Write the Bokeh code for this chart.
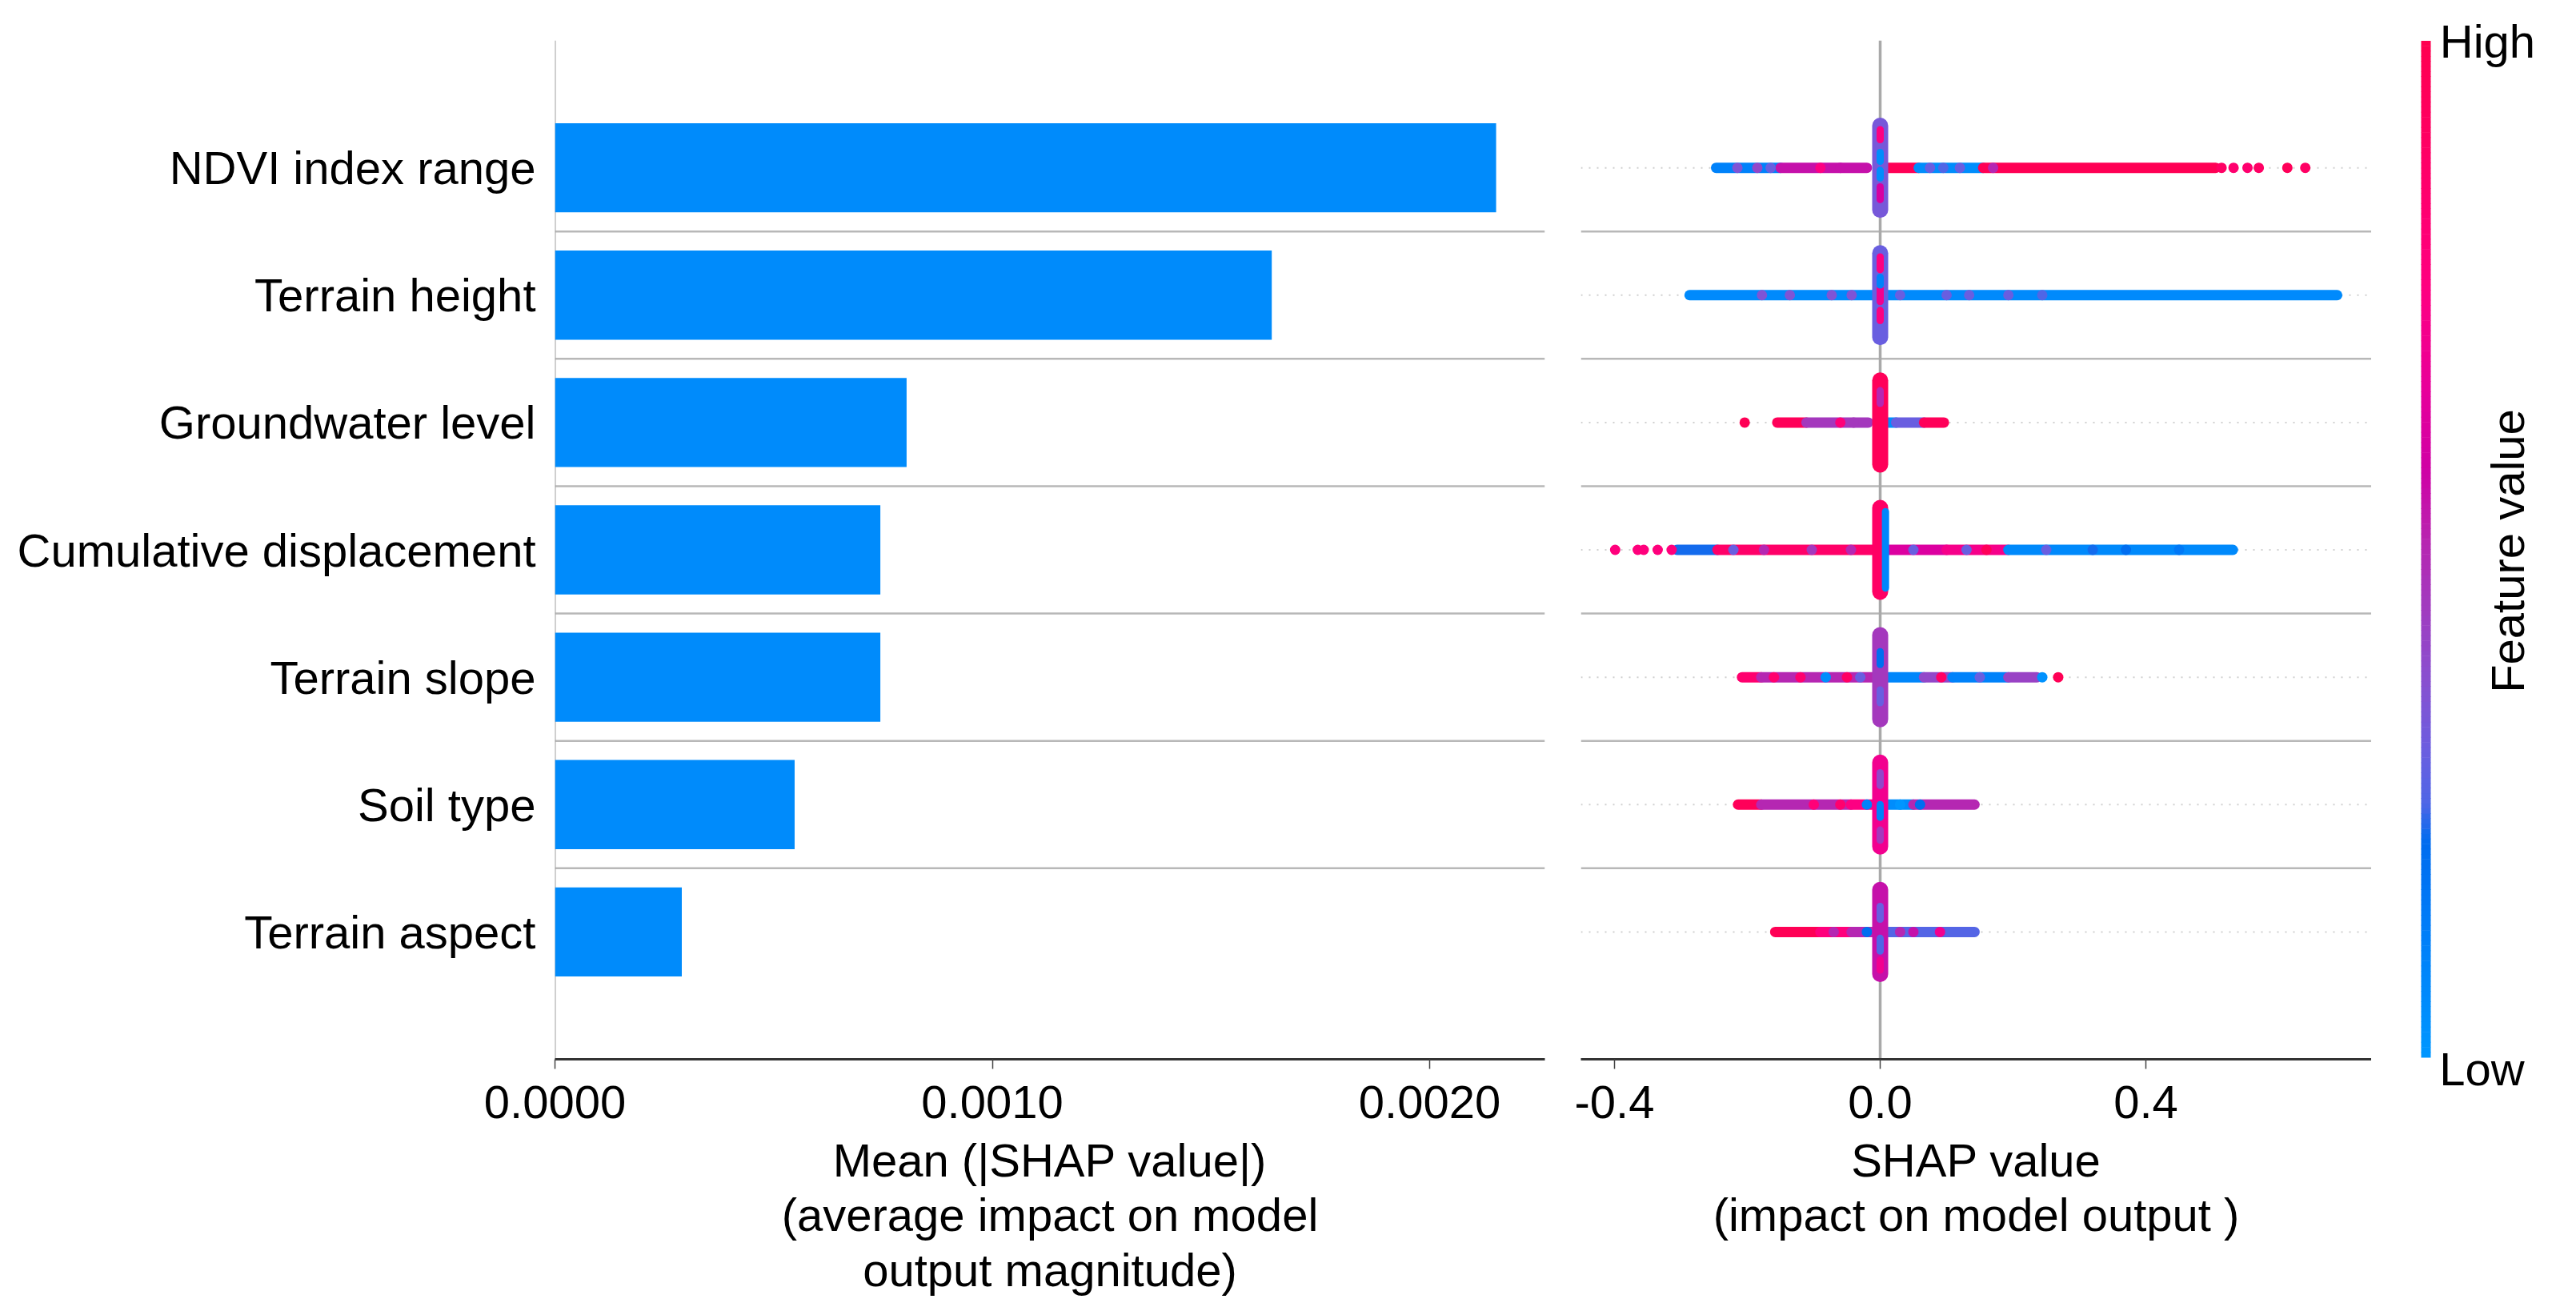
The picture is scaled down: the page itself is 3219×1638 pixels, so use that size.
import numpy as np
from bokeh.plotting import figure
from bokeh.layouts import row
from bokeh.models import Range1d, FixedTicker, NumeralTickFormatter, Span, ColumnDataSource, LinearAxis
from bokeh.transform import linear_cmap
from bokeh.embed import file_html
from bokeh.resources import INLINE
from bokeh.core.properties import value

# ---------------- data ----------------
features = ["NDVI index range", "Terrain height", "Groundwater level",
            "Cumulative displacement", "Terrain slope", "Soil type", "Terrain aspect"]
mean_abs_shap = [0.002152, 0.001639, 0.000804, 0.000744, 0.000744, 0.000548, 0.000290]

bar_ticks = [0.0, 0.001, 0.002]
shap_ticks = [-0.4, 0.0, 0.4]

# dense strips of SHAP values (feature index from top, start, end, feature level 0=low 1=high)
seg_feature = [0, 0, 0, 0, 0,
               1,
               2, 2, 2, 2, 2,
               3, 3, 3, 3, 3,
               4, 4, 4, 4, 4, 4,
               5, 5, 5, 5, 5,
               6, 6, 6, 6]
seg_x0 = [-0.247, -0.150, 0.010, 0.058, 0.155,
          -0.287,
          -0.155, -0.111, 0.005, 0.024, 0.066,
          -0.306, -0.245, 0.010, 0.100, 0.193,
          -0.208, -0.179, 0.008, 0.066, 0.109, 0.193,
          -0.214, -0.179, -0.044, 0.008, 0.050,
          -0.158, -0.090, -0.043, 0.010]
seg_x1 = [-0.150, -0.020, 0.058, 0.155, 0.505,
          0.688,
          -0.111, -0.018, 0.024, 0.066, 0.096,
          -0.245, -0.010, 0.100, 0.193, 0.531,
          -0.179, -0.010, 0.066, 0.109, 0.193, 0.236,
          -0.179, -0.044, 0.000, 0.050, 0.142,
          -0.090, -0.043, 0.000, 0.142]
seg_level = [0.10, 0.55, 0.97, 0.05, 0.98,
             0.06,
             0.95, 0.45, 0.04, 0.30, 0.95,
             0.22, 0.88, 0.62, 0.72, 0.07,
             0.85, 0.50, 0.08, 0.40, 0.10, 0.42,
             0.95, 0.50, 0.75, 0.05, 0.50,
             0.97, 0.78, 0.50, 0.26]

# individual / sparse points
pt_feature = [0, 0, 0, 0, 0, 0, 0, 0, 0, 0, 0, 0, 0, 0, 0,
              1, 1, 1, 1, 1, 1, 1, 1, 1,
              2, 2, 2,
              3, 3, 3, 3, 3, 3, 3, 3, 3, 3, 3, 3, 3, 3, 3, 3,
              4, 4, 4, 4, 4, 4, 4, 4, 4,
              5, 5, 5, 5, 5,
              6, 6, 6, 6, 6]
pt_x = [-0.215, -0.185, -0.165, -0.09, -0.06, 0.075, 0.095, 0.12, 0.17,
        0.514, 0.532, 0.553, 0.570, 0.613, 0.640,
        -0.178, -0.136, -0.073, -0.043, 0.030, 0.100, 0.134, 0.193, 0.244,
        -0.204, -0.060, -0.040,
        -0.399, -0.365, -0.356, -0.335, -0.314, -0.221, -0.175, -0.103, -0.044,
        0.050, 0.130, 0.160, 0.250, 0.320, 0.370, 0.450,
        -0.160, -0.120, -0.082, -0.050, -0.030, 0.092, 0.150, 0.244, 0.268,
        -0.100, -0.060, -0.020, 0.030, 0.060,
        -0.070, -0.020, 0.030, 0.050, 0.090]
pt_level = [0.35, 0.40, 0.30, 0.75, 0.55, 0.30, 0.25, 0.30, 0.50,
            0.90, 0.85, 0.85, 0.90, 0.95, 0.90,
            0.35, 0.35, 0.35, 0.35, 0.30, 0.30, 0.30, 0.30, 0.25,
            0.97, 0.80, 0.45,
            0.78, 0.78, 0.78, 0.78, 0.78, 0.30, 0.50, 0.45, 0.50,
            0.30, 0.30, 0.95, 0.30, 0.22, 0.20, 0.15,
            0.85, 0.85, 0.05, 0.90, 0.30, 0.90, 0.30, 0.02, 0.97,
            0.80, 0.85, 0.10, 0.00, 0.20,
            0.50, 0.20, 0.50, 0.55, 0.70]

# vertical piles of points near zero
pile_feature = [0, 1, 2, 3, 4, 5, 6]
pile_level = [0.33, 0.30, 0.95, 0.90, 0.45, 0.70, 0.55]

# colour flecks inside the piles (feature, x offset, dy start, dy end, level)
fleck_feature = [0, 0, 0, 0, 1, 1, 1, 1, 2, 3, 4, 4, 5, 5, 5, 6, 6, 6]
fleck_xoff = [0, 0, 0, 0, 0, 0, 0, 0, 0, 0.008, 0, 0, 0, 0, 0, 0, 0, 0]
fleck_dy0 = [0.22, 0.05, -0.08, -0.25, 0.20, -0.05, -0.20, 0.08, 0.15, -0.30, 0.10, -0.20, 0.15, -0.10, -0.28, 0.10, -0.15, -0.30]
fleck_dy1 = [0.30, 0.12, -0.02, -0.15, 0.30, 0.05, -0.12, 0.14, 0.25, 0.30, 0.20, -0.10, 0.25, 0.00, -0.20, 0.20, -0.05, -0.22]
fleck_level = [0.75, 0.05, 0.05, 0.60, 0.75, 0.70, 0.75, 0.10, 0.50, 0.08, 0.20, 0.30, 0.40, 0.10, 0.45, 0.30, 0.25, 0.70]

colorbar_labels = ["Low", "High"]
colorbar_title = "Feature value"
bar_axis_title = "Mean (|SHAP value|)\n(average impact on model\noutput magnitude)"
shap_axis_title = "SHAP value\n(impact on model output )"

# ---------------- style ----------------
FONT = "Liberation Sans"
FS = "58px"
BAR_BLUE = "#008bfb"

stops = [(0.00, "#0096ff"), (0.13, "#007cf8"), (0.21, "#006cef"), (0.25, "#4f66e6"),
         (0.30, "#6a5ee0"), (0.37, "#8850d0"), (0.44, "#a03cc0"), (0.51, "#b824b0"),
         (0.58, "#d000a5"), (0.66, "#e8009a"), (0.76, "#ff0080"), (0.90, "#ff0064"),
         (1.00, "#ff0050")]


def _rgb(h):
    return np.array([int(h[i:i + 2], 16) for i in (1, 3, 5)], dtype=float)


def make_palette(n=256):
    pos = np.array([s[0] for s in stops])
    cols = np.array([_rgb(s[1]) for s in stops])
    out = []
    for t in np.linspace(0, 1, n):
        c = [np.interp(t, pos, cols[:, k]) for k in range(3)]
        out.append("#%02x%02x%02x" % tuple(int(round(v)) for v in c))
    return out


palette = make_palette()
cmap = linear_cmap("level", palette, 0, 1)

n = len(features)
rows_y = [n - 1 - i for i in range(n)]

DX, DY = 6, 7          # fine offset of the whole drawing inside the page
H = 1622
TOP = 43 + DY
BOTTOM = 302 - DY
YR = (-1, 7)


def style_axis(ax, title):
    ax.axis_line_color = "#333333"
    ax.axis_line_width = 3
    ax.major_tick_line_color = "#444444"
    ax.major_tick_line_width = 1.5
    ax.major_tick_in = 0
    ax.major_tick_out = 12
    ax.minor_tick_line_color = None
    ax.major_label_text_font = FONT
    ax.major_label_text_font_size = FS
    ax.major_label_text_color = "black"
    ax.major_label_standoff = 21
    ax.axis_label = title
    ax.axis_label_text_font = FONT
    ax.axis_label_text_font_size = FS
    ax.axis_label_text_font_style = "normal"
    ax.axis_label_text_color = "black"
    ax.axis_label_standoff = 17
    ax.axis_label_text_line_height = 1.06


def style_grid_lines(p, dotted):
    for k in range(n - 1):
        p.add_layout(Span(location=k + 0.5, dimension="width", line_color="#b8b8b8",
                          line_width=2.5, level="underlay"))
    if dotted:
        for k in range(n):
            p.add_layout(Span(location=k, dimension="width", line_color="#d0d0d0",
                              line_width=2, line_dash="2 8", level="underlay"))


# ---------------- left panel: mean |SHAP| bars ----------------
bar_px_per_unit = 546500.0
p1_frame_w = 1237
p1_left_border = 687 + DX
p1 = figure(width=p1_left_border + p1_frame_w + 22, height=H,
            x_range=Range1d(0, p1_frame_w / bar_px_per_unit), y_range=Range1d(*YR),
            min_border_left=p1_left_border, min_border_right=22, min_border_top=TOP,
            min_border_bottom=BOTTOM, output_backend="svg", toolbar_location=None)
p1.outline_line_color = None
p1.grid.visible = False

style_grid_lines(p1, dotted=False)
p1.add_layout(Span(location=0, dimension="height", line_color="#a0a0a0", line_width=2,
                   level="underlay"))

p1.hbar(y=rows_y, left=0, right=mean_abs_shap, height=0.7, fill_color=BAR_BLUE, line_color=None)

p1.yaxis.ticker = FixedTicker(ticks=rows_y)
p1.yaxis.major_label_overrides = {rows_y[i]: features[i] for i in range(n)}
p1.yaxis.axis_line_color = None
p1.yaxis.major_tick_line_color = None
p1.yaxis.minor_tick_line_color = None
p1.yaxis.major_label_text_font = FONT
p1.yaxis.major_label_text_font_size = FS
p1.yaxis.major_label_text_color = "black"
p1.yaxis.major_label_standoff = 18

p1.xaxis.ticker = FixedTicker(ticks=bar_ticks, minor_ticks=[])
p1.xaxis.formatter = NumeralTickFormatter(format="0.0000")
style_axis(p1.xaxis[0], bar_axis_title)

# ---------------- middle panel: SHAP beeswarm ----------------
shap_px_per_unit = 830.0
zero_img = 2351
p2_left_img, p2_right_img = 1977, 2965
p2 = figure(width=23 + (p2_right_img - p2_left_img), height=H,
            x_range=Range1d((p2_left_img - zero_img) / shap_px_per_unit,
                            (p2_right_img - zero_img) / shap_px_per_unit),
            y_range=Range1d(*YR), y_axis_location=None,
            min_border_left=23, min_border_right=0, min_border_top=TOP, min_border_bottom=BOTTOM,
            output_backend="svg", toolbar_location=None)
p2.outline_line_color = None
p2.grid.visible = False

style_grid_lines(p2, dotted=True)
p2.add_layout(Span(location=0, dimension="height", line_color="#a9a9a9", line_width=3.5,
                   level="underlay"))

seg_src = ColumnDataSource(dict(x0=seg_x0, x1=seg_x1,
                                y=[n - 1 - f for f in seg_feature], level=seg_level))
p2.segment(x0="x0", y0="y", x1="x1", y1="y", source=seg_src, line_width=13,
           line_cap="round", line_color=cmap)

pt_src = ColumnDataSource(dict(x=pt_x, y=[n - 1 - f for f in pt_feature], level=pt_level))
p2.scatter(x="x", y="y", source=pt_src, size=13, marker="circle", fill_color=cmap,
           line_color=None)

PILE_HALF = 0.33
pile_src = ColumnDataSource(dict(x=[0.0] * len(pile_feature),
                                 y0=[n - 1 - f - PILE_HALF for f in pile_feature],
                                 y1=[n - 1 - f + PILE_HALF for f in pile_feature],
                                 level=pile_level))
p2.segment(x0="x", y0="y0", x1="x", y1="y1", source=pile_src, line_width=20,
           line_cap="round", line_color=cmap)

fl_src = ColumnDataSource(dict(x=fleck_xoff,
                               y0=[n - 1 - f + d for f, d in zip(fleck_feature, fleck_dy0)],
                               y1=[n - 1 - f + d for f, d in zip(fleck_feature, fleck_dy1)],
                               level=fleck_level))
p2.segment(x0="x", y0="y0", x1="x", y1="y1", source=fl_src, line_width=9,
           line_cap="round", line_color=cmap)

p2.xaxis.ticker = FixedTicker(ticks=shap_ticks, minor_ticks=[])
p2.xaxis.formatter = NumeralTickFormatter(format="0.0")
style_axis(p2.xaxis[0], shap_axis_title)

# ---------------- right panel: colour bar ----------------
# frame is aligned with the other panels (image y 51..1328); data y = 1638 - image y
p3_left = p2_right_img
cb_left_img, cb_right_img = 3027, 3039
p3_w = 3211 - p3_left - DX
p3 = figure(width=p3_w, height=H, x_range=Range1d(p3_left, p3_left + p3_w),
            y_range=Range1d(1638 - 1328, 1638 - 51), x_axis_location=None, y_axis_location=None,
            min_border_left=0, min_border_right=0, min_border_top=TOP, min_border_bottom=BOTTOM,
            output_backend="svg", toolbar_location=None)
p3.outline_line_color = None
p3.grid.visible = False

NL = 200
cb_levels = [(i + 0.5) / NL for i in range(NL)]
cb_bot, cb_top = 1638 - 1326, 1638 - 52
step = (cb_top - cb_bot) / NL
cb_src = ColumnDataSource(dict(bottom=[cb_bot + i * step for i in range(NL)],
                               top=[cb_bot + (i + 1) * step + 0.6 for i in range(NL)],
                               level=cb_levels))
p3.quad(left=cb_left_img, right=cb_right_img, bottom="bottom", top="top", source=cb_src,
        fill_color=cmap, line_color=None)


def label_axis(loc, tick_x, text, standoff):
    ax = LinearAxis(ticker=FixedTicker(ticks=[tick_x], minor_ticks=[]))
    ax.major_label_overrides = {tick_x: text}
    ax.axis_line_color = None
    ax.major_tick_line_color = None
    ax.minor_tick_line_color = None
    ax.major_label_text_font = FONT
    ax.major_label_text_font_size = FS
    ax.major_label_text_color = "black"
    ax.major_label_standoff = standoff
    p3.add_layout(ax, loc)


label_axis("above", 3110, colorbar_labels[1], -39)
label_axis("below", 3103, colorbar_labels[0], -27)

p3.text(x=[3135], y=[1638 - 691], text=[colorbar_title], angle=np.pi / 2,
        text_align="center", text_baseline="middle", text_font=value(FONT),
        text_font_size=value(FS), text_color="black")

layout = row(p1, p2, p3, spacing=0)
open("out.html", "w").write(file_html(layout, INLINE))
